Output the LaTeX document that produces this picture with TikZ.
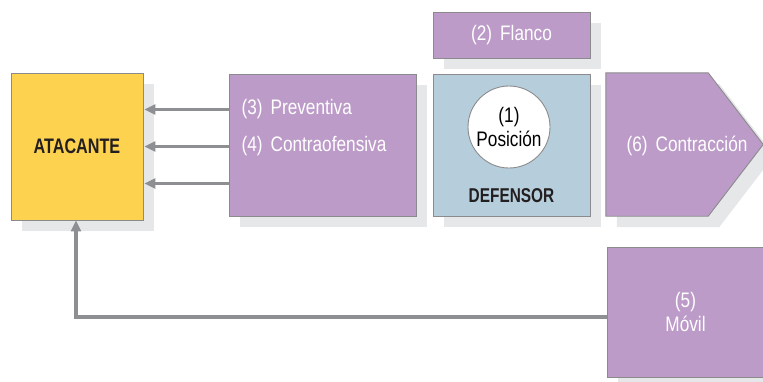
\documentclass[tikz,border=0pt]{standalone}
\usepackage{fontspec}
\setmainfont{Liberation Sans}[FakeStretch=0.82,BoldFeatures={FakeStretch=0.77}]
\usepackage{tikz}
\usetikzlibrary{arrows.meta,positioning,shadows,calc}
\definecolor{atkyellow}{HTML}{FCD24E}
\definecolor{movepurple}{HTML}{BC9BC8}
\definecolor{defblue}{HTML}{B6CEDB}
\definecolor{shadowgray}{HTML}{E6E7E8}
\definecolor{edgegray}{HTML}{8B8B8D}
\definecolor{linkgray}{HTML}{8D8F92}
\definecolor{inkblack}{HTML}{231F20}

\begin{document}
\begin{tikzpicture}[
    x=1pt,y=-1pt,
    font=\fontsize{21}{23.5}\selectfont,
    shade box/.style={draw=edgegray,line width=0.9pt,drop shadow={shadow xshift=11pt,shadow yshift=-11pt,fill=shadowgray,opacity=1}},
    atkbox/.style={shade box,fill=atkyellow,text=inkblack,font=\fontsize{21}{23}\selectfont\bfseries,minimum width=132pt,minimum height=147pt},
    movebox/.style={shade box,fill=movepurple,text=white,align=center,minimum width=157pt,minimum height=142pt},
    defbox/.style={shade box,fill=defblue,minimum width=157pt,minimum height=142pt},
    arrow/.style={-{Triangle[length=11pt,width=10pt]},line width=3.2pt,draw=linkgray}
  ]
    \useasboundingbox (0,0) rectangle (763,381);

    \node[atkbox] (atk) at (77,146.5) {ATACANTE};
    \node[movebox,minimum width=187pt] (prev) at (322.5,145) {};
    \node[defbox] (def) at (511.5,145) {};
    \node[movebox,minimum height=46pt] (flank) at (511.5,35) {(2)\hspace{8pt}Flanco};
    \node[minimum width=102pt,minimum height=143pt,inner sep=0pt] (contr) at (657,144.5) {};
    \path[shade box,fill=movepurple] (contr.north west) -- (contr.north east) -- ($(contr.east)+(55,0)$)
      -- (contr.south east) -- (contr.south west) -- cycle;
    \node[movebox,minimum height=130pt] (mobile) at (685.5,312) {(5)\\Móvil};

    \node[draw=edgegray,line width=0.9pt,fill=white,circle,minimum size=82pt,inner sep=0pt,align=center] (pos) at (509,127) {(1)\\Posición};
    \node[text=inkblack,font=\fontsize{20}{23}\selectfont\bfseries] (deflabel) at (511.5,196) {DEFENSOR};
    \node[text=white,anchor=west] (prevlabel) at (238,109) {(3)\hspace{8pt}Preventiva};
    \node[text=white,anchor=west] (counterlabel) at (238,146) {(4)\hspace{8pt}Contraofensiva};
    \node[text=white] (contrlabel) at (687,146) {(6)\hspace{8pt}Contracción};

    \foreach \dy in {-37,0,37}
      \draw[arrow] (prev.west |- {$(atk.east)+(0,\dy)$}) -- ($(atk.east)+(1,\dy)$);
    \draw[arrow] ([yshift=-5pt]mobile.west) -| ($(atk.south)+(-1,0)$);
  \end{tikzpicture}
\end{document}
